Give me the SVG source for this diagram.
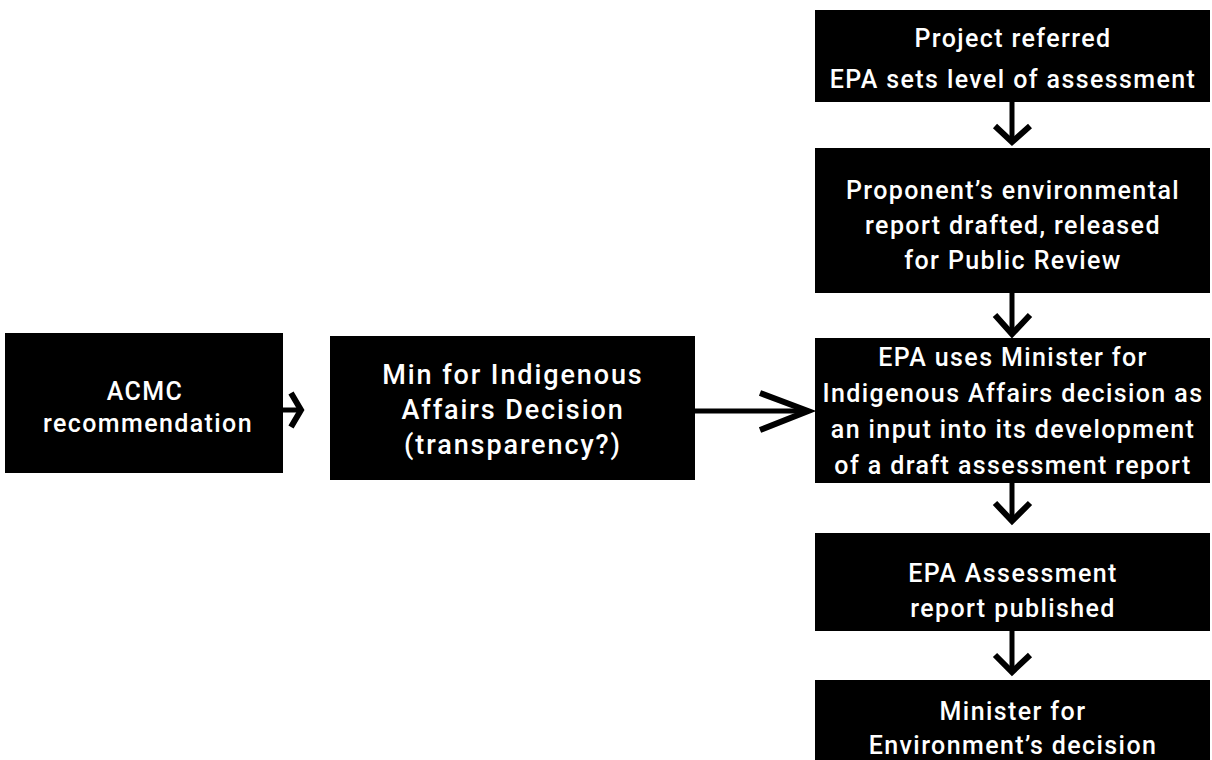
<svg xmlns="http://www.w3.org/2000/svg" width="1212" height="760" viewBox="0 0 1212 760">
<style>
.box{fill:#000}
.t{font-family:Roboto,"Liberation Sans",sans-serif;font-weight:500;font-size:25px;fill:#fff;text-anchor:middle;letter-spacing:1.4px}
.m{font-size:27px;letter-spacing:1.9px}
.ln{stroke:#000;stroke-width:5;fill:none}
.hd{stroke:#000;stroke-width:6;fill:none;stroke-linejoin:miter;stroke-linecap:butt}
</style>
<rect width="1212" height="760" fill="#fff"/>
<g id="connectors">
<line class="ln" x1="283" y1="410" x2="300" y2="410"/>
<polyline class="hd" points="291,393 301,410 291,427"/>
<line class="ln" x1="695" y1="411" x2="806" y2="411"/>
<polyline class="hd" points="760,393 808,411 760,430"/>
<line class="ln" x1="1012" y1="102" x2="1012" y2="141"/>
<polyline class="hd" points="995,126 1012,142 1030,126"/>
<line class="ln" x1="1012" y1="293" x2="1012" y2="333"/>
<polyline class="hd" points="995,315 1012,334 1030,315"/>
<line class="ln" x1="1012" y1="483" x2="1012" y2="520"/>
<polyline class="hd" points="995,503 1012,521 1030,503"/>
<line class="ln" x1="1012" y1="631" x2="1012" y2="671"/>
<polyline class="hd" points="995,655 1012,672 1030,655"/>
</g>
<g id="n-acmc">
<rect class="box" x="5" y="333" width="278" height="140"/>
<text class="t" x="145" y="400">ACMC</text>
<text class="t" x="148" y="432">recommendation</text>
</g>
<g id="n-min">
<rect class="box" x="330" y="336" width="365" height="144"/>
<text class="t m" x="513" y="384">Min for Indigenous</text>
<text class="t m" x="513" y="419">Affairs Decision</text>
<text class="t m" x="513" y="454">(transparency?)</text>
</g>
<g id="n-referred">
<rect class="box" x="815" y="10" width="395" height="92"/>
<text class="t" x="1013" y="47">Project referred</text>
<text class="t" x="1013" y="88">EPA sets level of assessment</text>
</g>
<g id="n-proponent">
<rect class="box" x="815" y="148" width="395" height="145"/>
<text class="t" x="1013" y="199">Proponent’s environmental</text>
<text class="t" x="1013" y="234">report drafted, released</text>
<text class="t" x="1013" y="269">for Public Review</text>
</g>
<g id="n-epa-uses">
<rect class="box" x="815" y="338" width="395" height="145"/>
<text class="t" x="1013" y="366">EPA uses Minister for</text>
<text class="t" x="1013" y="402">Indigenous Affairs decision as</text>
<text class="t" x="1013" y="438">an input into its development</text>
<text class="t" x="1013" y="474">of a draft assessment report</text>
</g>
<g id="n-epa-assessment">
<rect class="box" x="815" y="533" width="395" height="98"/>
<text class="t" x="1013" y="582">EPA Assessment</text>
<text class="t" x="1013" y="617">report published</text>
</g>
<g id="n-minister-env">
<rect class="box" x="815" y="680" width="395" height="80"/>
<text class="t" x="1013" y="720">Minister for</text>
<text class="t" x="1013" y="754">Environment’s decision</text>
</g>
</svg>
